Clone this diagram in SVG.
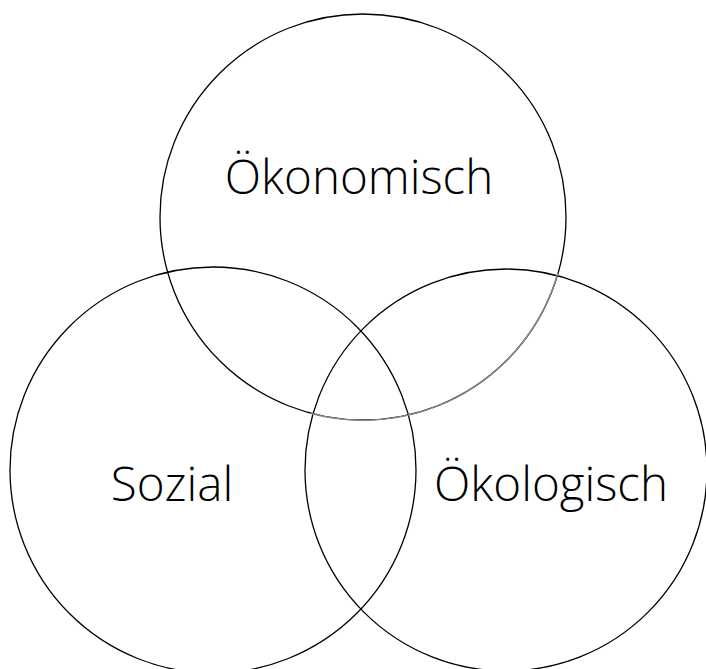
<svg xmlns="http://www.w3.org/2000/svg" width="706" height="669" viewBox="0 0 706 669">
<style>
.c{fill:none;stroke:#000;stroke-width:1.3}
.t{font-family:"Open Sans","Liberation Sans",sans-serif;font-weight:300;font-size:47.5px;fill:#000;text-anchor:middle}
</style>
<rect width="706" height="669" fill="#fff"/>
<g id="oekonomisch">
<circle class="c" cx="363" cy="217" r="203"/>
<text class="t" x="359" y="194">Ökonomisch</text>
</g>
<g id="sozial">
<circle class="c" cx="213" cy="470" r="203"/>
<text class="t" x="172" y="501">Sozial</text>
</g>
<g id="oekologisch">
<circle class="c" cx="506" cy="470" r="201"/>
<text class="t" x="551" y="501">Ökologisch</text>
</g>
<g id="connectors">
<path d="M311,413.5 A203,203 0 0 0 558,272.8" fill="none" stroke="#888" stroke-width="1.5"/>
</g>
</svg>
